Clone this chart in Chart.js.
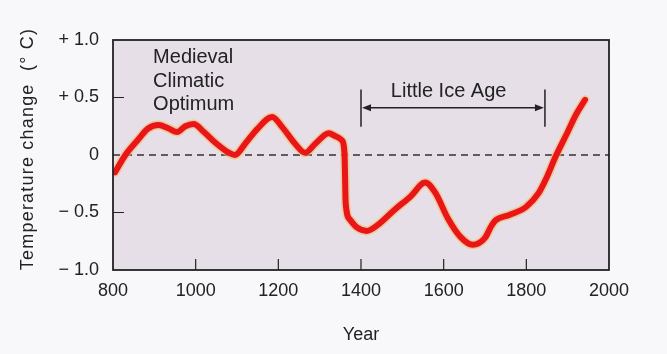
<!DOCTYPE html>
<html>
<head>
<meta charset="utf-8">
<script src="https://cdn.jsdelivr.net/npm/chart.js@4.4.1/dist/chart.umd.min.js"></script>
<style>
    html, body { margin: 0; padding: 0; background: #f8f7f9; }
    #wrap { width: 667px; height: 354px; }
</style>
</head>
<body>
<div id="wrap"><canvas id="tempChart" width="667" height="354"></canvas></div>
<script>
// Temperature change record
const years = [805, 830, 860, 885, 910, 935, 955, 975, 995, 1020, 1050, 1080, 1095, 1120, 1150, 1185, 1210, 1240, 1265, 1290, 1322, 1340, 1353, 1360, 1363, 1373, 1390, 1414, 1440, 1480, 1520, 1555, 1580, 1610, 1640, 1670, 1700, 1715, 1725, 1760, 1800, 1830, 1850, 1870, 1900, 1920, 1942];
const temps = [-0.15, 0.0, 0.13, 0.23, 0.26, 0.23, 0.2, 0.25, 0.27, 0.2, 0.1, 0.02, 0.0, 0.1, 0.23, 0.33, 0.24, 0.1, 0.02, 0.1, 0.19, 0.16, 0.13, 0.02, -0.42, -0.56, -0.63, -0.66, -0.61, -0.48, -0.36, -0.24, -0.33, -0.55, -0.71, -0.78, -0.72, -0.62, -0.57, -0.52, -0.45, -0.33, -0.19, -0.02, 0.2, 0.35, 0.48];

const xTickValues = [800, 1000, 1200, 1400, 1600, 1800, 2000];
const yTickValues = [-1, -0.5, 0, 0.5, 1];
const yTickLabels = ["\u2212 1.0", "\u2212 0.5", "0", "+ 0.5", "+ 1.0"];

const medievalLines = ["Medieval", "Climatic", "Optimum"];
const iceAgeLabel = "Little Ice Age";
const iceAgeStart = 1400;
const iceAgeEnd = 1845;

const ink = "#222";
const font = "'Liberation Sans', Arial, sans-serif";

// plot background, zero line, inside ticks, frame and annotations
const decorations = {
    id: "decorations",
    beforeDraw(chart) {
        const {ctx, chartArea: a} = chart;
        ctx.save();
        ctx.fillStyle = "#e6dfe8";
        ctx.fillRect(a.left, a.top, a.right - a.left, a.bottom - a.top);
        ctx.restore();
    },
    beforeDatasetsDraw(chart) {
        const {ctx, chartArea: a, scales: {y}} = chart;
        const y0 = y.getPixelForValue(0);
        ctx.save();
        ctx.strokeStyle = "#333";
        ctx.lineWidth = 1.6;
        ctx.setLineDash([7, 5]);
        ctx.beginPath();
        ctx.moveTo(a.left, y0);
        ctx.lineTo(a.right, y0);
        ctx.stroke();
        ctx.restore();
    },
    afterDraw(chart) {
        const {ctx, chartArea: a, scales: {x, y}} = chart;
        ctx.save();
        ctx.strokeStyle = ink;
        ctx.fillStyle = ink;

        // inside ticks
        ctx.lineWidth = 1.2;
        ctx.beginPath();
        xTickValues.slice(1, -1).forEach(v => {
            const px = x.getPixelForValue(v);
            ctx.moveTo(px, a.bottom);
            ctx.lineTo(px, a.bottom - 11);
        });
        [-0.5, 0.5].forEach(v => {
            const py = y.getPixelForValue(v);
            ctx.moveTo(a.left, py);
            ctx.lineTo(a.left + 11, py);
        });
        ctx.stroke();

        // frame
        ctx.lineWidth = 1.8;
        ctx.strokeRect(a.left, a.top, a.right - a.left, a.bottom - a.top);

        // Medieval Climatic Optimum
        ctx.font = "20px " + font;
        ctx.textAlign = "left";
        ctx.textBaseline = "middle";
        const mx = x.getPixelForValue(897);
        [0.845, 0.64, 0.435].forEach((v, i) => {
            ctx.fillText(medievalLines[i], mx, y.getPixelForValue(v));
        });

        // Little Ice Age bracket
        const x1 = x.getPixelForValue(iceAgeStart);
        const x2 = x.getPixelForValue(iceAgeEnd);
        const yt = y.getPixelForValue(0.57);
        const yb = y.getPixelForValue(0.245);
        const ya = y.getPixelForValue(0.41);
        ctx.lineWidth = 1.5;
        ctx.beginPath();
        ctx.moveTo(x1, yt); ctx.lineTo(x1, yb);
        ctx.moveTo(x2, yt); ctx.lineTo(x2, yb);
        ctx.moveTo(x1 + 4, ya); ctx.lineTo(x2 - 4, ya);
        ctx.stroke();
        ctx.beginPath();
        ctx.moveTo(x1 + 1, ya); ctx.lineTo(x1 + 10, ya - 3.5); ctx.lineTo(x1 + 10, ya + 3.5); ctx.closePath();
        ctx.moveTo(x2 - 1, ya); ctx.lineTo(x2 - 10, ya - 3.5); ctx.lineTo(x2 - 10, ya + 3.5); ctx.closePath();
        ctx.fill();
        ctx.textAlign = "center";
        ctx.fillText(iceAgeLabel, x.getPixelForValue(1612), y.getPixelForValue(0.55));

        // y axis title
        ctx.translate(28, (a.top + a.bottom) / 2 - 6);
        ctx.rotate(-Math.PI / 2);
        ctx.font = "18px " + font;
        ctx.letterSpacing = "1.2px";
        ctx.fillText("Temperature change  (\u00b0 C)", 0, 0);
        ctx.restore();
    }
};

const points = years.map((yr, i) => ({x: yr, y: temps[i]}));

const ctx = document.getElementById("tempChart");
new Chart(ctx, {
    type: "line",
    data: {
        datasets: [
            {
                data: points,
                order: 1,
                borderColor: "#e8161a",
                borderWidth: 6,
                borderCapStyle: "round",
                cubicInterpolationMode: "monotone",
                pointRadius: 0,
                fill: false
            },
            {
                data: points,
                order: 2,
                borderColor: "rgba(247, 180, 80, 0.55)",
                borderWidth: 9,
                borderCapStyle: "round",
                cubicInterpolationMode: "monotone",
                pointRadius: 0,
                fill: false
            }
        ]
    },
    options: {
        responsive: false,
        animation: false,
        events: [],
        layout: { padding: { top: 40, right: 58, left: 0, bottom: 0 } },
        plugins: {
            legend: { display: false },
            tooltip: { enabled: false }
        },
        scales: {
            x: {
                type: "linear",
                min: 800,
                max: 2000,
                grid: { display: false },
                border: { display: false },
                afterBuildTicks: s => { s.ticks = xTickValues.map(v => ({value: v})); },
                ticks: { color: ink, font: { family: font, size: 18 }, padding: 2, maxRotation: 0, callback: v => String(v) },
                title: { display: true, text: "Year", color: ink, font: { family: font, size: 18 }, padding: { top: 0, bottom: 8 } },
                afterFit: s => { s.height = 84; }
            },
            y: {
                min: -1,
                max: 1,
                grid: { display: false },
                border: { display: false },
                afterBuildTicks: s => { s.ticks = yTickValues.map(v => ({value: v})); },
                ticks: {
                    color: ink,
                    font: { family: font, size: 18 },
                    padding: 6,
                    callback: v => yTickLabels[yTickValues.indexOf(v)]
                },
                afterFit: s => { s.width = 113; }
            }
        }
    },
    plugins: [decorations]
});
</script>
</body>
</html>
